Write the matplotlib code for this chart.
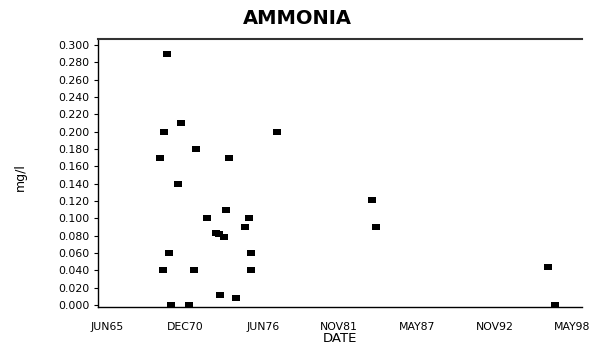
import matplotlib
matplotlib.use("Agg")
import matplotlib.pyplot as plt
from matplotlib.path import Path

# Sample dates (decimal years) and ammonia concentrations (mg/l)
dates = [1969.62, 1970.61, 1969.45, 1977.44, 1971.69, 1969.15, 1974.01, 1970.44,
         1973.82, 1972.47, 1975.42, 1975.18, 1973.11, 1973.32, 1973.68, 1969.81,
         1975.61, 1969.34, 1971.57, 1975.58, 1973.41, 1974.54, 1969.93, 1971.20,
         1984.16, 1984.40, 1996.61, 1997.08]
ammonia = [0.290, 0.210, 0.200, 0.200, 0.180, 0.170, 0.170, 0.140,
           0.110, 0.100, 0.100, 0.090, 0.083, 0.082, 0.078, 0.060,
           0.060, 0.040, 0.040, 0.040, 0.012, 0.008, 0.000, 0.000,
           0.121, 0.090, 0.044, 0.000]

xtick_pos = [1965.42, 1970.92, 1976.42, 1981.83, 1987.33, 1992.83, 1998.33]
xtick_labels = ["JUN65", "DEC70", "JUN76", "NOV81", "MAY87", "NOV92", "MAY98"]
xtick_marked = [1970.92, 1981.83, 1992.83]
ytick_vals = [i * 0.02 for i in range(16)]

plt.rcParams['font.family'] = ['DejaVu Sans']

fig = plt.figure(figsize=(5.95, 3.54), dpi=100)
ax = fig.add_axes([0.1647, 0.1328, 0.8133, 0.757])

rect = Path([(-1, -0.75), (1, -0.75), (1, 0.75), (-1, 0.75), (-1, -0.75)],
            [Path.MOVETO, Path.LINETO, Path.LINETO, Path.LINETO, Path.CLOSEPOLY])
ax.plot(dates, ammonia, linestyle='none', marker=rect, markersize=5.4,
        color='black', markeredgewidth=0)

ax.set_xlim(1964.77, 1999.0)
ax.set_ylim(-0.0023, 0.3068)

ax.set_xticks(xtick_pos)
ax.set_xticklabels(xtick_labels, fontsize=7.8)
ax.set_xticks(xtick_marked, minor=True)
ax.tick_params(axis='x', which='major', length=0, pad=11)
ax.tick_params(axis='x', which='minor', length=4, direction='in', width=0.8)

ax.set_yticks(ytick_vals)
ax.set_yticklabels([f"{v:.3f}" for v in ytick_vals], fontsize=7.8)
ax.tick_params(axis='y', which='major', length=3, width=0.8, direction='out', pad=3)

for s in ['left', 'bottom', 'top']:
    ax.spines[s].set_linewidth(1.0)
    ax.spines[s].set_color('black')
ax.spines['top'].set_linewidth(1.5)
ax.spines['top'].set_color('#333333')
ax.spines['right'].set_visible(False)

ax.set_xlabel("DATE", fontsize=9.5, labelpad=0)
fig.text(0.034, 0.5, "mg/l", rotation=90, fontsize=9, ha='center', va='center')
fig.text(0.5, 0.948, "AMMONIA", fontsize=14, fontweight='semibold', ha='center', va='center')

fig.savefig("out.png", dpi=100)
